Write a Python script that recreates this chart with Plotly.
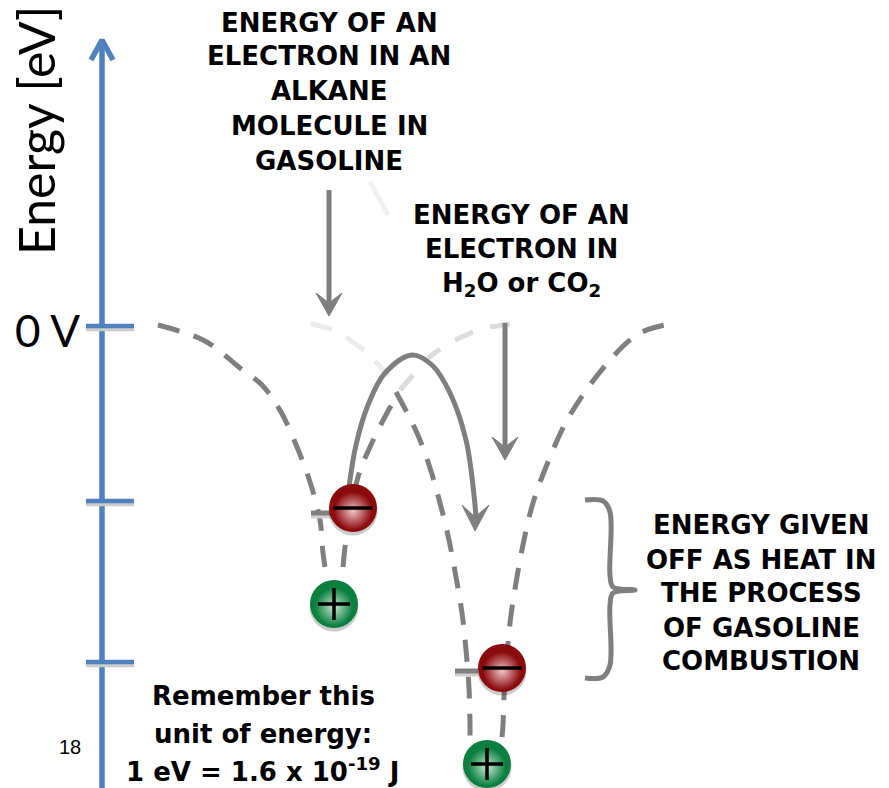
import plotly.graph_objects as go

# everything in pixels, y going down
GREY = "#7f7f7f"
BLUE = "#4f81bd"
FONT = "DejaVu Sans"
THIN = "Lato"

axis_x = [102, 102]
axis_y = [788, 42]
axis_head_x = [91, 102, 113]
axis_head_y = [60, 40, 60]

tick_levels = [326, 501, 662]
tick_start = 86
tick_end = 134

# potential wells
well1_left_x = [158, 205, 240, 262, 281, 297, 310, 320, 323, 325]
well1_left_y = [325, 341, 368, 385, 412, 447, 482, 520, 553, 567]
well1_right_x = [343, 346, 358, 370, 387, 397]
well1_right_y = [567, 540, 477, 447, 413, 396]
well2_left_x = [396, 417, 430, 440, 449, 456, 462, 466, 469, 470, 470]
well2_left_y = [392, 433, 468, 503, 540, 577, 613, 650, 688, 725, 737]
well2_right_x = [502, 503, 504, 508, 511, 517, 524, 533, 548, 570, 610, 640, 670]
well2_right_y = [737, 725, 697, 643, 615, 577, 540, 503, 462, 415, 360, 333, 324]

# faded dashes of the wells
faded_left_x = [311, 322, 332, None, 346, 355, 364, None, 375, 389]
faded_left_y = [324, 326, 329, None, 337, 343, 350, None, 361, 376]
faded_right_x = [400, 413, None, 428, 440, None, 455, 473, None, 490, 510]
faded_right_y = [390, 375, None, 358, 349, None, 340, 332, None, 327, 324]
stray_x = [370, 388]
stray_y = [182, 215]

arrow1_x = [329, 329]
arrow1_y = [190, 304]
arrow1_head_x = [329, 316, 329, 342, 329]
arrow1_head_y = [316, 293, 303, 293, 316]

arrow2_x = [505, 505]
arrow2_y = [323, 448]
arrow2_head_x = [505, 492, 505, 518, 505]
arrow2_head_y = [460, 437, 447, 437, 460]

curve_x = [349, 356, 368, 385, 412, 432, 450, 466, 474, 476]
curve_y = [487, 445, 405, 373, 355, 365, 393, 440, 495, 518]
curve_head_x = [475, 462, 475, 489, 475]
curve_head_y = [531, 505, 517, 505, 531]

brace_x = [585, 603, 610, 610, 613, 635, 613, 610, 610, 603, 585]
brace_y = [500, 501, 512, 575, 587, 590, 593, 605, 665, 677, 678]

level1_x = [311, 335]
level1_y = [513, 513]
level2_x = [455, 478]
level2_y = [671, 671]

minus_x = [353, 502]
minus_y = [508, 668]
plus_x = [334, 487]
plus_y = [604, 764]

label_top = ["ENERGY OF AN", "ELECTRON IN AN", "ALKANE", "MOLECULE IN", "GASOLINE"]
label_top_x = [329, 329, 329, 329, 329]
label_top_y = [23, 56, 91, 126, 161]
label_mid = ["ENERGY OF AN", "ELECTRON IN", "H<sub>2</sub>O or CO<sub>2</sub>"]
label_mid_x = [521, 521, 521]
label_mid_y = [215, 249, 284]
label_heat = ["ENERGY GIVEN", "OFF AS HEAT IN", "THE PROCESS", "OF GASOLINE", "COMBUSTION"]
label_heat_x = [761, 761, 761, 761, 761]
label_heat_y = [525, 560, 593, 628, 661]
label_unit = ["Remember this", "unit of energy:", "1 eV = 1.6 x 10<sup>-19</sup> J"]
label_unit_x = [263, 263, 263]
label_unit_y = [696, 734, 770]


def line_trace(x, y, color=GREY, width=5, dash=None, spline=False):
    return go.Scatter(
        x=x,
        y=y,
        mode="lines",
        hoverinfo="skip",
        line=dict(color=color, width=width, dash=dash, shape="spline" if spline else "linear"),
    )


def fill_trace(x, y, color=GREY):
    return go.Scatter(
        x=x,
        y=y,
        mode="lines",
        fill="toself",
        fillcolor=color,
        hoverinfo="skip",
        line=dict(color=color, width=1),
    )


def ball_traces(x, y, outer, inner, symbol, sign_size):
    shadow = go.Scatter(
        x=x,
        y=[v + 3 for v in y],
        mode="markers",
        hoverinfo="skip",
        marker=dict(size=49, color="rgba(0,0,0,0.2)", line=dict(width=0)),
    )
    ball = go.Scatter(
        x=x,
        y=y,
        mode="markers",
        hoverinfo="skip",
        marker=dict(size=48, color=outer, line=dict(width=0)),
    )
    glow = go.Scatter(
        x=x,
        y=[v + 3 for v in y],
        mode="markers",
        hoverinfo="skip",
        marker=dict(size=38, color=outer, gradient=dict(type="radial", color=inner), line=dict(width=0)),
    )
    sign = go.Scatter(
        x=x,
        y=y,
        mode="markers",
        hoverinfo="skip",
        marker=dict(size=sign_size, symbol=symbol, color="black", line=dict(width=3.5, color="black")),
    )
    return [shadow, ball, glow, sign]


fig = go.Figure()

dash = "22px,15px"
fig.add_trace(line_trace(well1_left_x, well1_left_y, dash=dash, spline=True))
fig.add_trace(line_trace(well1_right_x, well1_right_y, dash=dash, spline=True))
fig.add_trace(line_trace(well2_left_x, well2_left_y, dash=dash, spline=True))
fig.add_trace(line_trace(well2_right_x, well2_right_y, dash=dash, spline=True))
fig.add_trace(line_trace(faded_left_x, faded_left_y, color="#ececec"))
fig.add_trace(line_trace(faded_right_x, faded_right_y, color="#dcdcdc"))
fig.add_trace(line_trace(stray_x, stray_y, color="#f0f0f0"))

fig.add_trace(line_trace(axis_x, axis_y, color=BLUE, width=5.5))
fig.add_trace(line_trace(axis_head_x, axis_head_y, color=BLUE, width=5.5))
for level in tick_levels:
    fig.add_trace(line_trace([tick_start, tick_end], [level + 3, level + 3], color="#cccccc", width=4.5))
    fig.add_trace(line_trace([tick_start, tick_end], [level, level], color=BLUE, width=4.5))

fig.add_trace(line_trace(arrow1_x, arrow1_y))
fig.add_trace(fill_trace(arrow1_head_x, arrow1_head_y))
fig.add_trace(line_trace(arrow2_x, arrow2_y))
fig.add_trace(fill_trace(arrow2_head_x, arrow2_head_y))
fig.add_trace(line_trace(curve_x, curve_y, spline=True))
fig.add_trace(fill_trace(curve_head_x, curve_head_y))
fig.add_trace(line_trace(brace_x, brace_y, spline=True))

for lx, ly in [(level1_x, level1_y), (level2_x, level2_y)]:
    fig.add_trace(line_trace(lx, [v + 3 for v in ly], color="#d0d0d0"))
    fig.add_trace(line_trace(lx, ly))

fig.add_traces(ball_traces(minus_x, minus_y, "#8b0a0e", "#efc4c4", "line-ew", 28))
fig.add_traces(ball_traces(plus_x, plus_y, "#0a7f3f", "#c6e8d4", "cross-thin", 23))

for texts, xs, ys in [
    (label_top, label_top_x, label_top_y),
    (label_mid, label_mid_x, label_mid_y),
    (label_heat, label_heat_x, label_heat_y),
    (label_unit, label_unit_x, label_unit_y),
]:
    for text, x, y in zip(texts, xs, ys):
        fig.add_annotation(
            x=x, y=y, text=text, showarrow=False, xanchor="center", yanchor="middle",
            font=dict(family=FONT, size=26, color="black", weight="bold"),
        )

fig.add_annotation(x=36, y=131, text="Energy [eV]", textangle=-90, showarrow=False,
                   font=dict(family=THIN, size=50, color="black"))
fig.add_annotation(x=47, y=330, text="0 V", showarrow=False,
                   font=dict(family=THIN, size=44, color="black"))
fig.add_annotation(x=70, y=747, text="18", showarrow=False,
                   font=dict(family="Liberation Sans", size=20, color="black"))

fig.update_layout(
    width=889,
    height=788,
    margin=dict(l=0, r=0, t=0, b=0),
    paper_bgcolor="white",
    plot_bgcolor="white",
    showlegend=False,
    xaxis=dict(range=[0, 889], visible=False, fixedrange=True),
    yaxis=dict(range=[788, 0], visible=False, fixedrange=True),
)

fig.write_html("out.html", config=dict(displayModeBar=False), post_script="document.body.style.margin='0';")
